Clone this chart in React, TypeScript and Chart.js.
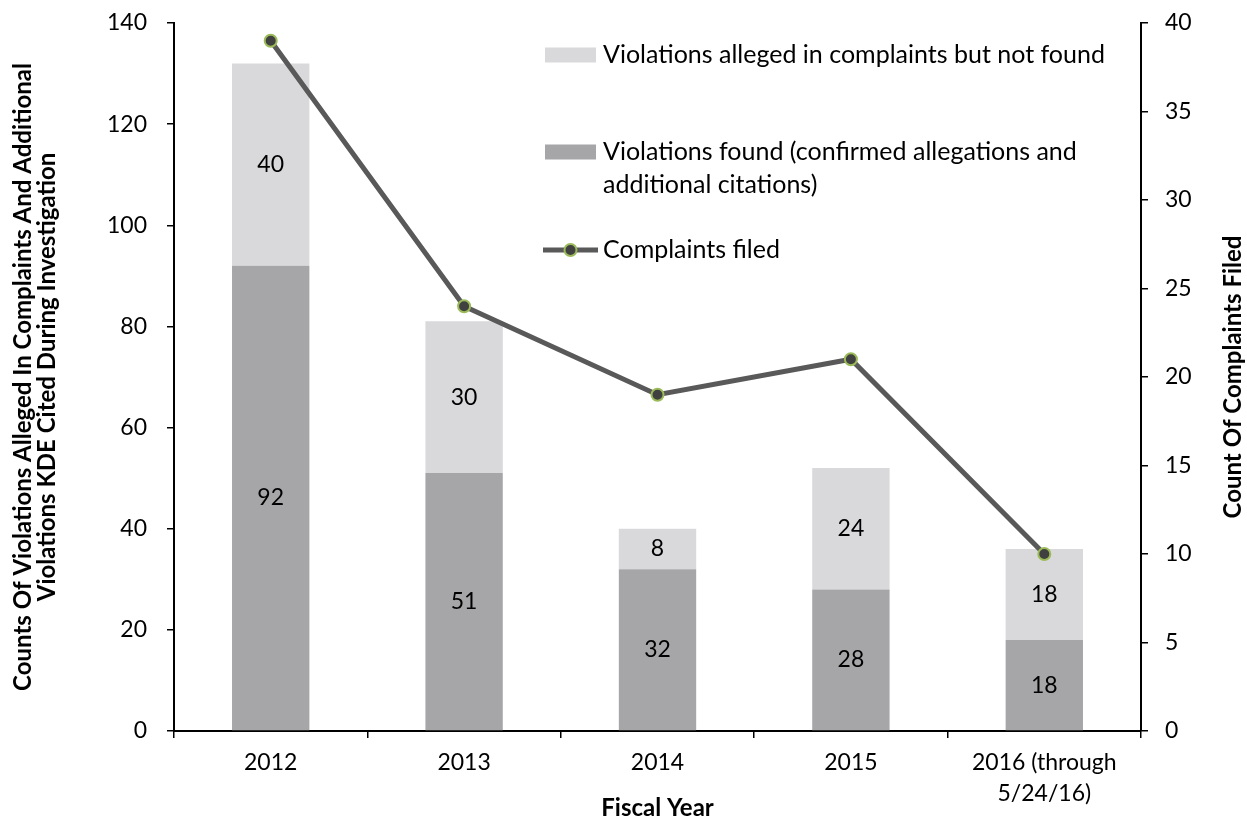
import React, { useEffect, useRef } from 'react';
import { Chart, registerables } from 'chart.js';

Chart.register(...registerables);

const categories: string[][] = [['2012'], ['2013'], ['2014'], ['2015'], ['2016 (through', '5/24/16)']];
const violationsFound = [92, 51, 32, 28, 18];
const violationsNotFound = [40, 30, 8, 24, 18];
const complaintsFiled = [39, 24, 19, 21, 10];

const leftAxisMax = 140;
const leftAxisStep = 20;
const rightAxisMax = 40;
const rightAxisStep = 5;

const legendNotFound = ['Violations alleged in complaints but not found'];
const legendFound = ['Violations found (confirmed allegations and', 'additional citations)'];
const legendComplaints = ['Complaints filed'];

const leftTitle = ['Counts Of Violations Alleged In Complaints And Additional', 'Violations KDE Cited During Investigation'];
const rightTitle = 'Count Of Complaints Filed';
const xTitle = 'Fiscal Year';

const FONT = 'Lato';
const LIGHT = '#d9d9db';
const DARK = '#a6a6a9';
const LINE = '#595959';
const MARKER_FILL = '#404040';
const MARKER_BORDER = '#9bbb59';

const dataLabelPlugin = {
  id: 'dataLabels',
  afterDatasetsDraw(chart: any) {
    const ctx = chart.ctx;
    ctx.save();
    ctx.font = `23px ${FONT}`;
    ctx.fillStyle = '#000';
    ctx.textAlign = 'center';
    ctx.textBaseline = 'middle';
    chart.data.datasets.forEach((ds: any, i: number) => {
      if (ds.type === 'line') return;
      const meta = chart.getDatasetMeta(i);
      meta.data.forEach((el: any, j: number) => {
        const cy = (el.y + el.base) / 2;
        ctx.fillText(String(ds.data[j]), el.x, cy);
      });
    });
    ctx.restore();
  },
};

const rightTitlePlugin = {
  id: 'rightTitle',
  afterDraw(chart: any) {
    const ctx = chart.ctx;
    const a = chart.chartArea;
    ctx.save();
    ctx.font = `bold 24px ${FONT}`;
    ctx.fillStyle = '#000';
    ctx.textAlign = 'center';
    ctx.textBaseline = 'middle';
    ctx.translate(chart.width - 14, (a.top + a.bottom) / 2);
    ctx.rotate(-Math.PI / 2);
    ctx.fillText(rightTitle, 0, 0);
    ctx.restore();
  },
};

const legendPlugin = {
  id: 'customLegend',
  afterDraw(chart: any) {
    const ctx = chart.ctx;
    const a = chart.chartArea;
    const sx = a.left + 371;
    const sw = 51;
    const tx = sx + 58;
    const lh = 33;
    ctx.save();
    ctx.font = `25px ${FONT}`;
    ctx.textBaseline = 'middle';
    ctx.textAlign = 'left';

    const y1 = a.top + 32;
    ctx.fillStyle = LIGHT;
    ctx.fillRect(sx, y1 - 7.5, sw, 15);
    ctx.fillStyle = '#000';
    legendNotFound.forEach((t, k) => ctx.fillText(t, tx, y1 + k * lh));

    const y2 = a.top + 129;
    ctx.fillStyle = DARK;
    ctx.fillRect(sx, y2 - 7.5, sw, 15);
    ctx.fillStyle = '#000';
    legendFound.forEach((t, k) => ctx.fillText(t, tx, y2 + k * lh));

    const y3 = a.top + 227;
    ctx.strokeStyle = LINE;
    ctx.lineWidth = 5;
    ctx.beginPath();
    ctx.moveTo(sx - 2, y3);
    ctx.lineTo(sx + sw + 2, y3);
    ctx.stroke();
    ctx.beginPath();
    ctx.arc(sx + sw / 2, y3, 6, 0, Math.PI * 2);
    ctx.fillStyle = MARKER_FILL;
    ctx.fill();
    ctx.lineWidth = 2;
    ctx.strokeStyle = MARKER_BORDER;
    ctx.stroke();
    ctx.fillStyle = '#000';
    legendComplaints.forEach((t, k) => ctx.fillText(t, tx, y3 + k * lh));
    ctx.restore();
  },
};

export default function App() {
  const ref = useRef<HTMLCanvasElement | null>(null);

  useEffect(() => {
    if (!ref.current) return;
    const chart = new Chart(ref.current, {
      type: 'bar',
      data: {
        labels: categories as any,
        datasets: [
          {
            type: 'line',
            label: 'Complaints filed',
            data: complaintsFiled,
            yAxisID: 'y1',
            borderColor: LINE,
            borderWidth: 5,
            pointRadius: 6,
            pointHoverRadius: 6,
            pointBackgroundColor: MARKER_FILL,
            pointBorderColor: MARKER_BORDER,
            pointBorderWidth: 2,
            tension: 0,
            order: 0,
          } as any,
          {
            type: 'bar',
            label: 'Violations found (confirmed allegations and additional citations)',
            data: violationsFound,
            backgroundColor: DARK,
            yAxisID: 'y',
            stack: 's',
            order: 1,
            categoryPercentage: 1,
            barPercentage: 0.4,
          },
          {
            type: 'bar',
            label: 'Violations alleged in complaints but not found',
            data: violationsNotFound,
            backgroundColor: LIGHT,
            yAxisID: 'y',
            stack: 's',
            order: 2,
            categoryPercentage: 1,
            barPercentage: 0.4,
          },
        ],
      },
      options: {
        responsive: false,
        animation: false,
        layout: { padding: { top: 23, left: 0, right: 0, bottom: 0 } },
        plugins: {
          legend: { display: false },
          tooltip: { enabled: false },
          title: { display: false },
        },
        scales: {
          x: {
            stacked: true,
            offset: true,
            grid: {
              offset: true,
              drawOnChartArea: false,
              drawTicks: true,
              tickLength: 7,
              color: '#000',
              lineWidth: 1.5,
            },
            border: { display: true, color: '#000', width: 2 },
            ticks: {
              color: '#000',
              font: { family: FONT, size: 23, lineHeight: 1.35 },
              padding: 9,
              maxRotation: 0,
              autoSkip: false,
            },
            title: {
              display: true,
              text: xTitle,
              color: '#000',
              font: { family: FONT, size: 24, weight: 'bold', lineHeight: 1.1 },
              padding: { top: 0, bottom: 0 },
            },
            afterFit: (s: any) => {
              s.height = 90;
              s.paddingLeft = 0;
              s.paddingRight = 0;
            },
          },
          y: {
            type: 'linear',
            position: 'left',
            stacked: true,
            min: 0,
            max: leftAxisMax,
            ticks: {
              stepSize: leftAxisStep,
              color: '#000',
              font: { family: FONT, size: 23 },
              padding: 20,
            },
            grid: {
              drawOnChartArea: false,
              drawTicks: true,
              tickLength: 7,
              color: '#000',
              lineWidth: 1.5,
            },
            border: { display: true, color: '#000', width: 2 },
            title: {
              display: true,
              text: leftTitle,
              color: '#000',
              font: { family: FONT, size: 24, weight: 'bold', lineHeight: 1.0 },
              padding: { top: 11, bottom: 0 },
            },
            afterFit: (s: any) => {
              s.width = 174;
              s.paddingTop = 0;
              s.paddingBottom = 0;
            },
          },
          y1: {
            type: 'linear',
            position: 'right',
            min: 0,
            max: rightAxisMax,
            ticks: {
              stepSize: rightAxisStep,
              color: '#000',
              font: { family: FONT, size: 23 },
              padding: 17,
            },
            grid: {
              drawOnChartArea: false,
              drawTicks: true,
              tickLength: 7,
              color: '#000',
              lineWidth: 1.5,
            },
            border: { display: true, color: '#000', width: 2 },
            title: { display: false },
            afterFit: (s: any) => {
              s.width = 106;
              s.paddingTop = 0;
              s.paddingBottom = 0;
            },
          },
        },
      } as any,
      plugins: [dataLabelPlugin, legendPlugin, rightTitlePlugin],
    });
    return () => chart.destroy();
  }, []);

  return (
    <div style={{ position: 'absolute', left: 0, top: 0, width: 1247, height: 821, background: '#fff' }}>
      <canvas ref={ref} width={1247} height={821} style={{ display: 'block' }} />
    </div>
  );
}
